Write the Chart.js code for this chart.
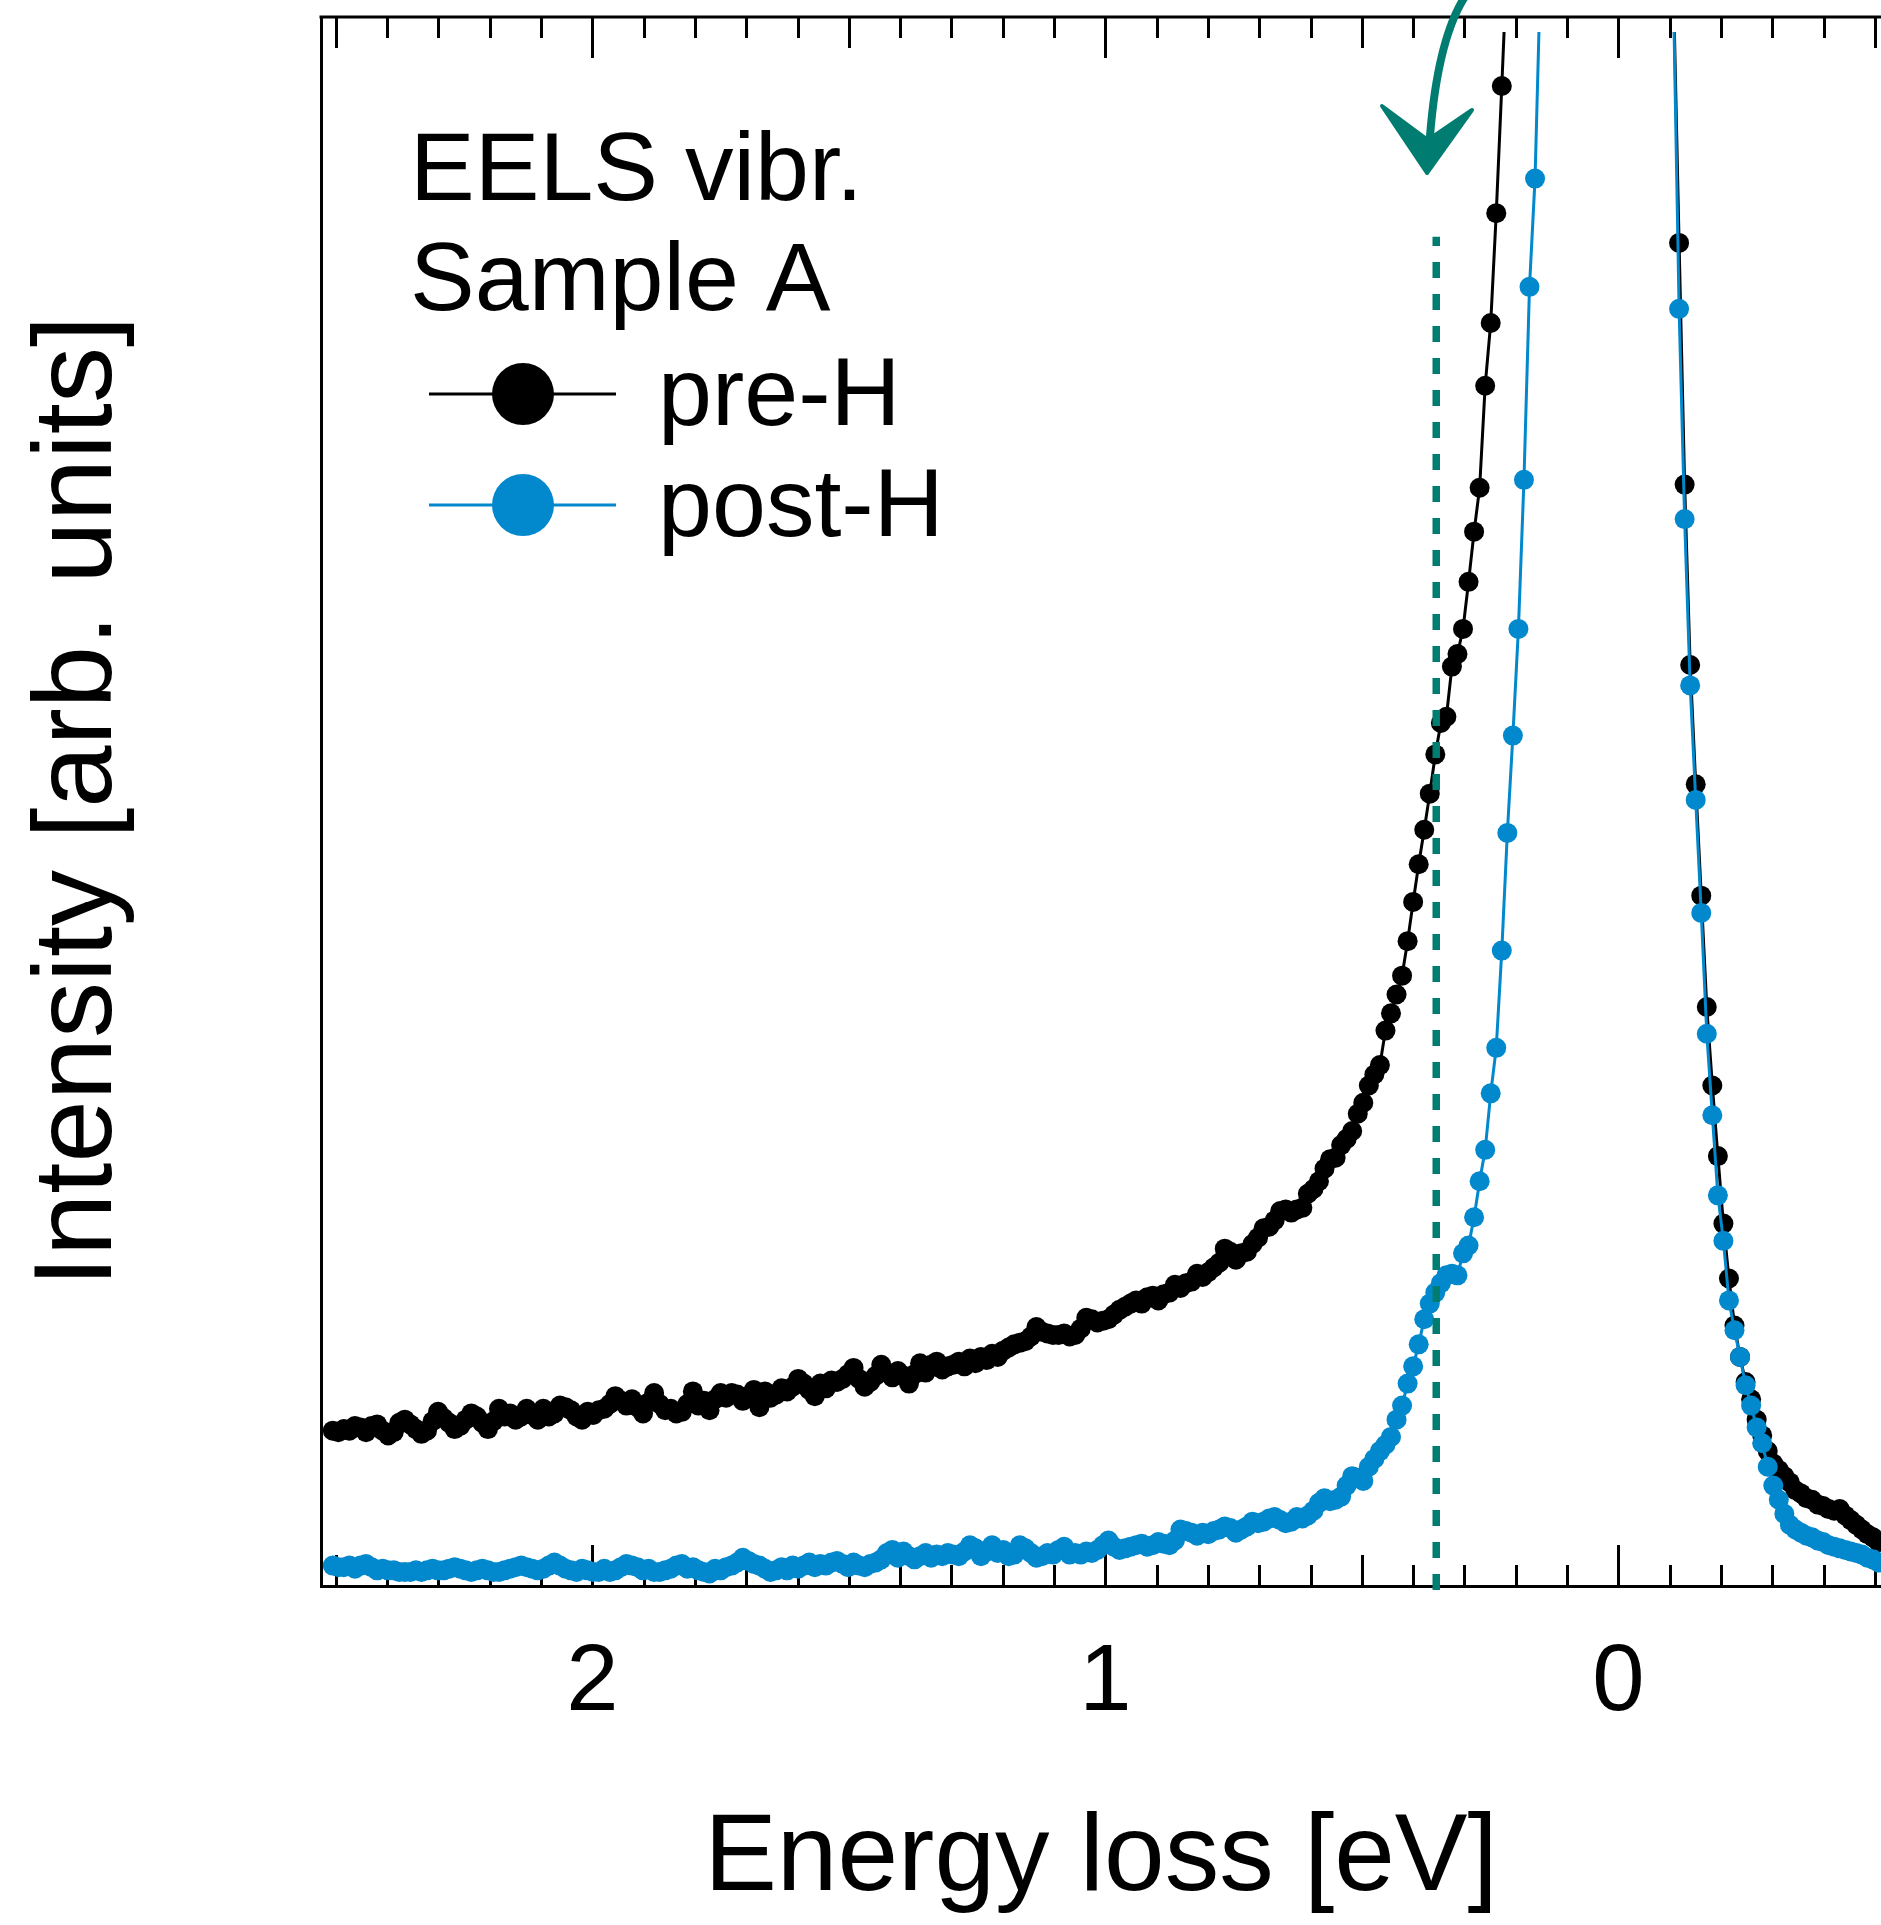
<!DOCTYPE html>
<html>
<head>
<meta charset="utf-8">
<script src="https://cdn.jsdelivr.net/npm/chart.js@4.4.1/dist/chart.umd.min.js"></script>
<style>
  html, body { margin: 0; padding: 0; background: #fff; overflow: hidden; }
  #wrap { width: 1881px; height: 1925px; position: relative; }
  canvas { display: block; }
</style>
</head>
<body>
<div id="wrap"><canvas id="c" width="1881" height="1925"></canvas></div>
<script>
// ---------------- DATA ----------------
// Energy loss [eV] sampling points (shared by both spectra)
const energy = [
  -0.5072,-0.4964,-0.4856,-0.4748,-0.4640,-0.4532,-0.4424,-0.4316,-0.4208,-0.4100,
  -0.3992,-0.3884,-0.3776,-0.3668,-0.3560,-0.3452,-0.3344,-0.3236,-0.3128,-0.3020,
  -0.2912,-0.2804,-0.2696,-0.2588,-0.2480,-0.2372,-0.2264,-0.2156,-0.2048,-0.1940,
  -0.1832,-0.1724,-0.1616,-0.1508,-0.1400,-0.1292,-0.1184,-0.1076,
  0.1516,0.1624,0.1732,0.1840,0.1948,0.2056,0.2164,
  0.2272,0.2380,0.2488,0.2596,0.2704,0.2812,0.2920,0.3028,0.3136,0.3244,
  0.3352,0.3460,0.3568,0.3676,0.3784,0.3892,0.4000,0.4108,0.4216,0.4324,
  0.4432,0.4540,0.4648,0.4756,0.4864,0.4972,0.5080,0.5188,0.5296,0.5404,
  0.5512,0.5620,0.5728,0.5836,0.5944,0.6052,0.6160,0.6268,0.6376,0.6484,
  0.6592,0.6700,0.6808,0.6916,0.7024,0.7132,0.7240,0.7348,0.7456,0.7564,
  0.7672,0.7780,0.7888,0.7996,0.8104,0.8212,0.8320,0.8428,0.8536,0.8644,
  0.8752,0.8860,0.8968,0.9076,0.9184,0.9292,0.9400,0.9508,0.9616,0.9724,
  0.9832,0.9940,1.0048,1.0156,1.0264,1.0372,1.0480,1.0588,1.0696,1.0804,
  1.0912,1.1020,1.1128,1.1236,1.1344,1.1452,1.1560,1.1668,1.1776,1.1884,
  1.1992,1.2100,1.2208,1.2316,1.2424,1.2532,1.2640,1.2748,1.2856,1.2964,
  1.3072,1.3180,1.3288,1.3396,1.3504,1.3612,1.3720,1.3828,1.3936,1.4044,
  1.4152,1.4260,1.4368,1.4476,1.4584,1.4692,1.4800,1.4908,1.5016,1.5124,
  1.5232,1.5340,1.5448,1.5556,1.5664,1.5772,1.5880,1.5988,1.6096,1.6204,
  1.6312,1.6420,1.6528,1.6636,1.6744,1.6852,1.6960,1.7068,1.7176,1.7284,
  1.7392,1.7500,1.7608,1.7716,1.7824,1.7932,1.8040,1.8148,1.8256,1.8364,
  1.8472,1.8580,1.8688,1.8796,1.8904,1.9012,1.9120,1.9228,1.9336,1.9444,
  1.9552,1.9660,1.9768,1.9876,1.9984,2.0092,2.0200,2.0308,2.0416,2.0524,
  2.0632,2.0740,2.0848,2.0956,2.1064,2.1172,2.1280,2.1388,2.1496,2.1604,
  2.1712,2.1820,2.1928,2.2036,2.2144,2.2252,2.2360,2.2468,2.2576,2.2684,
  2.2792,2.2900,2.3008,2.3116,2.3224,2.3332,2.3440,2.3548,2.3656,2.3764,
  2.3872,2.3980,2.4088,2.4196,2.4304,2.4412,2.4520,2.4628,2.4736,2.4844,2.4952,2.5060
];

// pre-H intensity (arb. units, 100 = top of the frame); null = not in view
const preH = [
  2.8,3.1,3.3,3.6,3.9,4.2,4.5,4.9,4.8,4.9,
  5.1,5.2,5.5,5.6,5.9,6.1,6.6,7.0,7.4,7.8,
  8.6,9.6,10.6,11.9,13.0,14.6,16.6,19.6,23.1,27.4,
  31.9,36.9,44.0,51.1,58.7,70.2,85.6,101.5,
  null,null,null,null,null,null,104,
  95.6,87.5,80.5,76.5,70.0,67.2,64.0,61.0,59.4,58.6,
  55.4,55.0,53.0,50.5,48.2,46.0,43.6,41.1,38.9,37.7,
  36.5,35.4,33.2,32.6,31.9,30.8,30.1,29.0,28.5,28.1,
  27.3,27.2,26.6,25.8,25.3,25.0,24.1,24.0,23.8,24.0,
  23.9,23.3,22.9,22.8,22.2,21.8,21.3,21.2,20.8,21.3,
  21.5,20.6,20.3,20.0,19.7,19.9,19.4,19.3,19.0,19.2,
  18.7,18.6,18.2,18.5,18.4,18.0,18.2,18.0,17.8,17.6,
  17.3,17.0,16.9,16.8,17.0,17.1,16.4,16.0,15.9,16.1,
  16.0,16.0,16.1,16.2,16.5,15.9,15.6,15.5,15.4,15.2,
  15.0,14.6,14.8,14.4,14.6,14.2,14.5,14.0,14.3,14.1,
  14.0,13.8,14.3,14.1,13.6,14.2,13.5,12.9,13.4,13.7,
  13.3,13.6,14.1,13.4,13.0,12.7,13.2,13.9,13.5,13.2,
  13.0,13.1,12.6,12.9,12.1,12.5,12.9,13.2,12.7,12.4,
  12.6,12.2,12.0,12.4,11.4,12.5,12.1,11.8,12.2,12.3,
  12.0,12.3,11.9,11.2,11.8,11.5,12.4,11.6,11.1,11.0,
  11.3,11.2,11.6,12.3,11.7,11.0,11.4,11.9,11.5,11.8,
  12.1,11.6,11.3,11.2,10.9,11.1,10.6,10.8,11.2,11.4,
  11.5,11.0,10.8,11.3,10.6,10.9,11.3,10.8,10.6,11.0,
  10.8,11.3,10.5,10.0,10.4,10.8,11.0,10.6,10.2,10.0,
  10.4,10.7,11.1,10.5,9.9,9.7,10.0,10.3,10.6,10.4,
  9.8,9.6,9.9,10.3,10.2,9.8,10.1,10.2,9.9,10.0,9.8,9.9
];

// post-H intensity
const postH = [
  1.5,1.7,1.8,2.0,2.1,2.2,2.3,2.4,2.5,2.6,
  2.8,2.9,3.1,3.2,3.4,3.6,3.9,4.6,5.5,6.4,
  7.6,9.1,10.1,11.5,12.8,14.6,16.3,18.2,22.0,24.9,
  30.0,35.2,42.9,50.1,57.4,68.0,81.4,101.0,
  103,89.7,82.8,70.5,61.0,54.2,48.0,
  40.5,34.3,31.4,27.8,25.8,23.5,21.7,21.2,19.8,19.9,
  19.8,19.3,18.7,18.0,17.0,15.4,14.0,12.9,11.5,10.6,
  9.5,9.0,8.6,8.1,7.6,6.7,6.9,7.0,6.4,5.7,
  5.5,5.4,5.6,5.3,4.8,4.5,4.3,4.4,4.1,4.0,
  4.2,4.4,4.3,4.1,4.0,4.1,3.8,3.6,3.4,3.7,
  3.8,3.6,3.5,3.3,3.4,3.2,3.4,3.5,3.6,2.9,
  2.6,2.7,2.8,2.6,2.5,2.7,2.6,2.5,2.4,2.3,
  2.5,2.9,2.6,2.3,2.1,2.2,2.0,2.1,2.0,2.5,
  2.3,2.0,2.1,1.9,1.8,2.1,2.4,2.6,2.0,1.9,
  2.3,2.1,2.6,2.2,1.9,2.4,2.6,2.2,1.9,2.0,
  2.1,1.9,2.0,1.8,2.1,1.9,1.7,1.9,2.2,1.8,
  2.3,2.1,1.7,1.5,1.4,1.2,1.3,1.5,1.2,1.4,
  1.6,1.5,1.3,1.4,1.2,1.5,1.3,1.1,1.3,1.0,
  1.2,1.0,0.9,1.1,1.3,1.4,1.6,1.8,1.5,1.3,
  1.2,1.0,1.1,0.8,0.9,1.0,1.2,1.1,1.4,1.3,
  1.1,1.0,0.9,0.9,1.1,1.0,1.2,1.3,1.4,1.2,
  1.0,0.9,1.1,0.9,0.9,1.0,1.1,0.9,1.0,1.1,
  1.3,1.5,1.3,1.1,1.0,1.1,1.2,1.3,1.2,1.1,
  1.0,0.9,0.9,1.0,1.1,1.0,0.9,1.0,1.1,1.2,
  1.1,1.0,1.0,1.1,1.0,0.9,1.0,0.9,0.9,0.9,
  1.0,1.0,1.1,1.0,1.2,1.4,1.3,1.1,1.3,1.2,1.2,1.3
];

const seriesLabels = ['pre-H', 'post-H'];
const legendTitle = ['EELS vibr.', 'Sample A'];
const xTickLabels = [2, 1, 0];
const xTitle = 'Energy loss [eV]';
const yTitle = 'Intensity [arb. units]';
const markerEnergy = 0.355;      // dashed vertical marker position [eV]
const markerRange = [-0.26, 86]; // its vertical extent (intensity units)
const xRange = [-0.512, 2.529];
const yRange = [0, 100];

// ---------------- STYLE ----------------
const FONT = "'Liberation Sans', Arial, Helvetica, sans-serif";
const BLACK = '#000000';
const BLUE = '#0288cc';
const TEAL = '#007d70';

Chart.defaults.font.family = FONT;
Chart.defaults.color = '#000';

const toPts = arr => energy.map((e, i) => ({ x: e, y: arr[i] })).filter(p => p.y !== null);

const lenOK = energy.length === preH.length && energy.length === postH.length;

const ticksAndFrame = {
  id: 'ticksAndFrame',
  beforeDatasetsDraw(chart) {
    const { ctx, chartArea: a } = chart;
    const xs = chart.scales.x;
    ctx.save();
    ctx.strokeStyle = '#000';
    ctx.lineWidth = 3;
    xs.ticks.forEach(t => {
      const tenth = Math.round(t.value * 10);
      if (Math.abs(t.value * 10 - tenth) > 1e-6) return;
      const len = (tenth % 10 === 0) ? 41 : (Math.abs(tenth) % 5 === 0 ? 31 : 21);
      const px = Math.round(xs.getPixelForValue(t.value)) + 0.5;
      ctx.beginPath();
      ctx.moveTo(px, a.bottom);
      ctx.lineTo(px, a.bottom - len);
      ctx.moveTo(px, a.top);
      ctx.lineTo(px, a.top + len);
      ctx.stroke();
    });
    ctx.restore();
  },
  afterDraw(chart) {
    const { ctx, chartArea: a } = chart;
    ctx.save();
    // top frame line
    ctx.strokeStyle = '#000';
    ctx.lineWidth = 3;
    ctx.beginPath();
    ctx.moveTo(a.left - 1.5, a.top);
    ctx.lineTo(a.right + 2, a.top);
    ctx.stroke();

    // legend block
    ctx.fillStyle = '#000';
    ctx.textBaseline = 'alphabetic';
    ctx.textAlign = 'left';
    ctx.font = '97px ' + FONT;
    ctx.fillText(legendTitle[0], 410, 200);
    ctx.fillText(legendTitle[1], 410, 310);
    const rows = [
      { y: 394, color: BLACK, label: seriesLabels[0], base: 425 },
      { y: 505, color: BLUE, label: seriesLabels[1], base: 536 }
    ];
    rows.forEach(r => {
      ctx.strokeStyle = r.color;
      ctx.lineWidth = 3;
      ctx.beginPath();
      ctx.moveTo(429, r.y);
      ctx.lineTo(616, r.y);
      ctx.stroke();
      ctx.fillStyle = r.color;
      ctx.beginPath();
      ctx.arc(523, r.y, 31, 0, Math.PI * 2);
      ctx.fill();
      ctx.fillStyle = '#000';
      ctx.fillText(r.label, 658, r.base);
    });

    // hand-drawn teal arrow pointing at the marker
    ctx.strokeStyle = TEAL;
    ctx.fillStyle = TEAL;
    ctx.lineCap = 'round';
    ctx.lineWidth = 8;
    ctx.beginPath();
    ctx.moveTo(1466, -5);
    ctx.quadraticCurveTo(1436, 40, 1429, 150);
    ctx.stroke();
    ctx.lineJoin = 'round';
    ctx.lineWidth = 4;
    ctx.beginPath();
    ctx.moveTo(1382, 106);
    ctx.lineTo(1428, 140);
    ctx.lineTo(1472, 110);
    ctx.lineTo(1427, 173);
    ctx.closePath();
    ctx.fill();
    ctx.stroke();

    if (!lenOK) {
      ctx.fillStyle = 'red';
      ctx.font = '40px sans-serif';
      ctx.fillText('LENGTH MISMATCH ' + energy.length + ' ' + preH.length + ' ' + postH.length, 400, 800);
    }
    ctx.restore();
  }
};

const clipTop = { left: 2, top: -15, right: 10, bottom: 6 };

new Chart(document.getElementById('c').getContext('2d'), {
  type: 'line',
  data: {
    datasets: [
      {
        label: 'marker',
        data: [{ x: markerEnergy, y: markerRange[0] }, { x: markerEnergy, y: markerRange[1] }],
        borderColor: TEAL,
        borderWidth: 7.5,
        borderDash: [16, 16],
        borderCapStyle: 'butt',
        pointRadius: 0,
        order: 0,
        clip: { left: 2, top: 2, right: 2, bottom: 4 }
      },
      {
        label: seriesLabels[1],
        data: toPts(postH),
        borderColor: BLUE,
        backgroundColor: BLUE,
        borderWidth: 3,
        pointRadius: 10,
        pointBorderWidth: 0,
        pointBackgroundColor: BLUE,
        order: 1,
        clip: clipTop
      },
      {
        label: seriesLabels[0],
        data: toPts(preH),
        borderColor: BLACK,
        backgroundColor: BLACK,
        borderWidth: 3,
        pointRadius: 10,
        pointBorderWidth: 0,
        pointBackgroundColor: BLACK,
        order: 2,
        clip: clipTop
      }
    ]
  },
  options: {
    responsive: false,
    animation: false,
    devicePixelRatio: 1,
    layout: { autoPadding: false, padding: { top: 17, left: 0, right: 0, bottom: 0 } },
    elements: { line: { tension: 0 } },
    plugins: { legend: { display: false }, tooltip: { enabled: false } },
    scales: {
      x: {
        type: 'linear',
        reverse: true,
        min: xRange[0],
        max: xRange[1],
        afterFit: s => { s.height = 339; s.paddingLeft = 0; s.paddingRight = 0; },
        grid: { display: false, drawTicks: false },
        border: { display: true, width: 3, color: '#000' },
        ticks: {
          stepSize: 0.1,
          autoSkip: false,
          maxRotation: 0,
          minRotation: 0,
          includeBounds: false,
          padding: 42,
          color: '#000',
          font: { size: 94 },
          callback: v => {
            const r = Math.round(v);
            return (Math.abs(v - r) < 1e-6 && xTickLabels.includes(r)) ? String(r) : '';
          }
        },
        title: {
          display: true,
          text: xTitle,
          color: '#000',
          font: { size: 109 },
          padding: { top: 0, bottom: 0 }
        }
      },
      y: {
        type: 'linear',
        min: yRange[0],
        max: yRange[1],
        afterFit: s => { s.width = 321; s.paddingTop = 0; s.paddingBottom = 0; },
        grid: { display: false, drawTicks: false },
        border: { display: true, width: 3, color: '#000' },
        ticks: { display: false },
        title: {
          display: true,
          text: yTitle,
          color: '#000',
          font: { size: 112 },
          padding: { top: 13, bottom: 0 }
        }
      }
    }
  },
  plugins: [ticksAndFrame]
});
</script>
</body>
</html>
